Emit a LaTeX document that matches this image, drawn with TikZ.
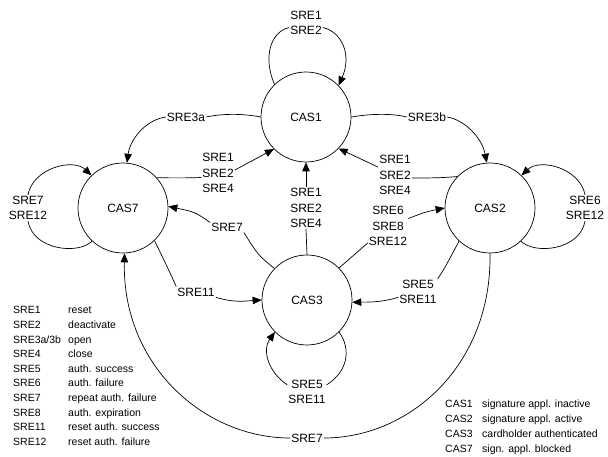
\documentclass[tikz,border=0pt]{standalone}
\usepackage{fontspec}
\setmainfont{Liberation Sans}
\usetikzlibrary{arrows.meta}
\begin{document}
\begin{tikzpicture}[x=1pt,y=-1pt,
  state/.style={draw, circle, minimum size=90pt, inner sep=0pt, font=\fontsize{12}{14}\selectfont, line width=0.7pt},
  lab/.style={font=\fontsize{12}{15.5}\selectfont, align=center, inner sep=1pt},
  link/.style={line width=0.7pt},
  arr/.style={link, -{Triangle[length=9pt,width=7.5pt]}},
  legend/.style={anchor=north west, inner sep=0pt}]
\useasboundingbox (0,0) rectangle (608,457);

% states
\node[state] (cas1) at (306,117) {CAS1};
\node[state] (cas7) at (123,208) {CAS7};
\node[state] (cas2) at (490,208) {CAS2};
\node[state] (cas3) at (307,300) {CAS3};

% labels
\node[lab] (l1)    at (306,23)  {SRE1\\SRE2};
\node[lab] (l3a)   at (186,117) {SRE3a};
\node[lab] (l3b)   at (427,117) {SRE3b};
\node[lab] (l4)    at (218,173) {SRE1\\SRE2\\SRE4};
\node[lab] (l5)    at (395,175) {SRE1\\SRE2\\SRE4};
\node[lab] (l6)    at (306,208) {SRE1\\SRE2\\SRE4};
\node[lab] (l7)    at (227,227) {SRE7};
\node[lab] (l11)   at (196,292) {SRE11};
\node[lab] (l8)    at (388,226) {SRE6\\SRE8\\SRE12};
\node[lab] (l511)  at (418,292) {SRE5\\SRE11};
\node[lab] (l2loop) at (585,208) {SRE6\\SRE12};
\node[lab] (l7loop) at (28,208) {SRE7\\SRE12};
\node[lab] (l3loop) at (307,392) {SRE5\\SRE11};
\node[lab] (l7b)   at (307,438) {SRE7};

% CAS1 self loop
\draw[link] (cas1.134) .. controls (263,58) and (270,32) .. (l1.195);
\draw[arr] (l1.345) .. controls (342,32) and (352,55) .. (cas1.44);

% SRE3a, SRE3b
\draw[link] (cas1.180) .. controls (240,113) and (220,114) .. (l3a.east);
\draw[arr] (l3a.west) .. controls (145,120) and (130,140) .. (cas7.85);
\draw[link] (cas1.0) .. controls (375,113) and (395,114) .. (l3b.west);
\draw[arr] (l3b.east) .. controls (465,120) and (482,138) .. (cas2.94);

% CAS7 -> CAS1
\draw[link] (cas7.42) .. controls (172,178) and (186,178) .. (l4.195);
\draw[arr] (l4.10) -- (cas1.225);

% CAS2 -> CAS1
\draw[link] (cas2.136) .. controls (442,178) and (428,178) .. (l5.350);
\draw[arr] (l5.155) -- (cas1.316);

% CAS3 -> CAS1
\draw[link] (cas3.north) -- (l6.south);
\draw[arr] (l6.north) -- (cas1.south);

% CAS3 -> CAS7
\draw[link] (cas3.136) .. controls (258,255) .. (l7.south east);
\draw[arr] (l7.165) .. controls (195,212) .. (cas7.2);

% CAS7 -> CAS3
\draw[link] (cas7.314) .. controls (165,262) and (172,277) .. (l11.north west);
\draw[arr] (l11.345) .. controls (235,303) and (245,301) .. (cas3.180);

% CAS3 -> CAS2
\draw[link] (cas3.45) -- (l8.220);
\draw[arr] (l8.20) .. controls (425,212) .. (cas2.180);

% CAS2 -> CAS3
\draw[link] (cas2.227) .. controls (450,258) and (445,268) .. (l511.north east);
\draw[arr] (l511.195) .. controls (380,303) and (365,302) .. (cas3.357);

% CAS2 self loop
\draw[link] (cas2.313) .. controls (535,255) and (580,250) .. (l2loop.south);
\draw[arr] (l2loop.north) .. controls (580,168) and (540,158) .. (cas2.46);

% CAS7 self loop
\draw[link] (cas7.227) .. controls (78,255) and (33,250) .. (l7loop.south);
\draw[arr] (l7loop.north) .. controls (33,168) and (73,158) .. (cas7.134);

% CAS3 self loop
\draw[link] (cas3.315) .. controls (352,350) and (347,372) .. (l3loop.20);
\draw[arr] (l3loop.160) .. controls (268,372) and (262,350) .. (cas3.225);

% CAS2 -> CAS7 big arc
\draw[link] (cas2.270) .. controls (492,365) and (410,438) .. (l7b.east);
\draw[arr] (l7b.west) .. controls (204,438) and (122,365) .. (cas7.272);

% legends
\node[legend, font=\fontsize{10.5}{14.6}\selectfont] (legL) at (13,303.5) {%
\begin{tabular}{@{}p{55pt}@{}l@{}}
SRE1 & reset\\
SRE2 & deactivate\\
SRE3a/3b & open\\
SRE4 & close\\
SRE5 & auth. success\\
SRE6 & auth. failure\\
SRE7 & repeat auth. failure\\
SRE8 & auth. expiration\\
SRE11 & reset auth. success\\
SRE12 & reset auth. failure
\end{tabular}};
\node[legend, font=\fontsize{10.5}{15}\selectfont] (legR) at (445,396.5) {%
\begin{tabular}{@{}p{37pt}@{}l@{}}
CAS1 & signature appl. inactive\\
CAS2 & signature appl. active\\
CAS3 & cardholder authenticated\\
CAS7 & sign. appl. blocked
\end{tabular}};
\end{tikzpicture}
\end{document}
